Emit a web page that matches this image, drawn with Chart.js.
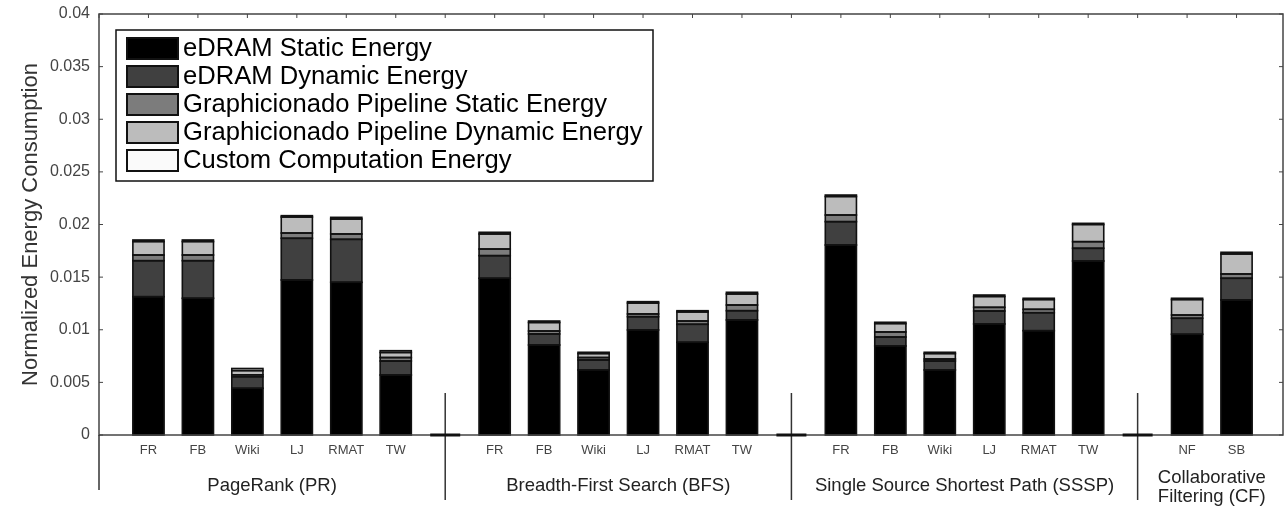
<!DOCTYPE html>
<html lang="en">
<head>
  <meta charset="UTF-8" />
  <title>Normalized Energy Consumption</title>
  <script src="https://cdn.jsdelivr.net/npm/chart.js"></script>
  <style>
    html, body { margin: 0; padding: 0; background: #fff; overflow: hidden; }
    canvas { display: block; }
  </style>
</head>
<body>
  <canvas id="grafico" width="1286" height="508"></canvas>
  <script>
    // groups of workloads and the graphs in each
    const groupNames = ['PageRank (PR)', 'Breadth-First Search (BFS)', 'Single Source Shortest Path (SSSP)', ['Collaborative', 'Filtering (CF)']];
    const groupGraphs = [
      ['FR', 'FB', 'Wiki', 'LJ', 'RMAT', 'TW'],
      ['FR', 'FB', 'Wiki', 'LJ', 'RMAT', 'TW'],
      ['FR', 'FB', 'Wiki', 'LJ', 'RMAT', 'TW'],
      ['NF', 'SB']
    ];

    // values in bar order (PR, BFS, SSSP, CF)
    const edramStatic   = [0.01314, 0.01299, 0.00444, 0.01473, 0.01451, 0.00570, 0.01489, 0.00855, 0.00618, 0.00998, 0.00881, 0.01093, 0.01805, 0.00846, 0.00618, 0.01055, 0.00991, 0.01653, 0.00957, 0.01283];
    const edramDynamic  = [0.00342, 0.00357, 0.00110, 0.00396, 0.00408, 0.00133, 0.00215, 0.00105, 0.00095, 0.00126, 0.00171, 0.00088, 0.00222, 0.00085, 0.00085, 0.00123, 0.00171, 0.00121, 0.00152, 0.00206];
    const pipeStatic    = [0.00054, 0.00054, 0.00018, 0.00050, 0.00051, 0.00033, 0.00063, 0.00028, 0.00023, 0.00026, 0.00031, 0.00054, 0.00063, 0.00048, 0.00019, 0.00035, 0.00032, 0.00063, 0.00031, 0.00041];
    const pipeDynamic   = [0.00128, 0.00128, 0.00040, 0.00152, 0.00142, 0.00048, 0.00143, 0.00081, 0.00038, 0.00104, 0.00086, 0.00105, 0.00176, 0.00080, 0.00052, 0.00103, 0.00093, 0.00163, 0.00147, 0.00190];
    const customCompute = [0.00015, 0.00015, 0.00020, 0.00013, 0.00016, 0.00017, 0.00016, 0.00014, 0.00012, 0.00013, 0.00012, 0.00016, 0.00014, 0.00012, 0.00012, 0.00014, 0.00012, 0.00011, 0.00012, 0.00016];

    const yTicks = [0, 0.005, 0.01, 0.015, 0.02, 0.025, 0.03, 0.035, 0.04];

    // empty slot before, between and after the groups
    const labels = [''];
    const gaps = [0];
    groupGraphs.forEach(g => {
      g.forEach(n => labels.push(n));
      gaps.push(labels.length);
      labels.push('');
    });

    function pad(arr) {
      const out = [];
      let k = 0;
      labels.forEach((l, i) => out.push(gaps.includes(i) ? null : arr[k++]));
      return out;
    }

    const FONT = "'Liberation Sans', Arial, sans-serif";

    const serie = (label, data, color) => ({
      label, data: pad(data), backgroundColor: color,
      borderWidth: 0, inflateAmount: 0.3,
      barPercentage: 0.63, categoryPercentage: 1
    });

    const decoracion = {
      id: 'decoracion',
      afterDatasetsDraw(chart) {
        // black outline around every stacked segment
        const { ctx } = chart;
        ctx.save();
        ctx.strokeStyle = '#111';
        ctx.lineWidth = 1.6;
        chart.data.datasets.forEach((ds, di) => {
          chart.getDatasetMeta(di).data.forEach((el, i) => {
            if (ds.data[i] == null) return;
            const p = el.getProps(['x', 'y', 'base', 'width'], true);
            const top = Math.min(p.y, p.base);
            ctx.strokeRect(p.x - p.width / 2, top, p.width, Math.abs(p.base - p.y));
          });
        });
        ctx.restore();
      },
      afterDraw(chart) {
        const { ctx, chartArea: a, scales: { x, y } } = chart;
        const right = a.right - 3;
        ctx.save();

        // frame
        ctx.strokeStyle = '#444';
        ctx.lineWidth = 1.5;
        ctx.strokeRect(a.left, a.top, right - a.left, a.bottom - a.top);

        // inward ticks
        ctx.lineWidth = 1;
        labels.forEach((l, i) => {
          const px = x.getPixelForValue(i);
          if (px > right) return;
          ctx.beginPath(); ctx.moveTo(px, a.top); ctx.lineTo(px, a.top + 4); ctx.stroke();
        });
        yTicks.forEach(v => {
          const py = y.getPixelForValue(v);
          ctx.beginPath(); ctx.moveTo(a.left, py); ctx.lineTo(a.left + 4, py); ctx.stroke();
          ctx.beginPath(); ctx.moveTo(right, py); ctx.lineTo(right - 4, py); ctx.stroke();
        });

        // group separators
        ctx.strokeStyle = '#333';
        ctx.lineWidth = 1.5;
        gaps.forEach((g, i) => {
          const px = x.getPixelForValue(g);
          if (i === 0) {
            ctx.beginPath(); ctx.moveTo(px, a.bottom); ctx.lineTo(px, a.bottom + 55); ctx.stroke();
          } else if (i < gaps.length - 1) {
            ctx.beginPath(); ctx.moveTo(px, a.bottom - 42); ctx.lineTo(px, a.bottom + 65); ctx.stroke();
            ctx.save();
            ctx.lineWidth = 3; ctx.strokeStyle = '#111';
            ctx.beginPath(); ctx.moveTo(px - 15, a.bottom); ctx.lineTo(px + 15, a.bottom); ctx.stroke();
            ctx.restore();
          }
        });

        // group names
        ctx.fillStyle = '#222';
        ctx.font = '18.5px ' + FONT;
        ctx.textAlign = 'center';
        ctx.textBaseline = 'middle';
        groupNames.forEach((name, i) => {
          const cx = (x.getPixelForValue(gaps[i]) + x.getPixelForValue(gaps[i + 1])) / 2;
          if (Array.isArray(name)) {
            ctx.fillText(name[0], cx, a.bottom + 43);
            ctx.fillText(name[1], cx, a.bottom + 62);
          } else {
            ctx.fillText(name, cx, a.bottom + 51);
          }
        });

        // y title
        ctx.save();
        ctx.translate(31, (a.top + a.bottom) / 2);
        ctx.rotate(-Math.PI / 2);
        ctx.font = '22px ' + FONT;
        ctx.fillStyle = '#333';
        ctx.fillText('Normalized Energy Consumption', 0, 0);
        ctx.restore();

        // legend
        ctx.fillStyle = '#fff';
        ctx.fillRect(116, 30, 537, 151);
        ctx.strokeStyle = '#111';
        ctx.lineWidth = 1.5;
        ctx.strokeRect(116, 30, 537, 151);
        ctx.textAlign = 'left';
        ctx.font = '25.6px ' + FONT;
        chart.data.datasets.forEach((ds, i) => {
          const cy = 48 + i * 28;
          ctx.fillStyle = ds.backgroundColor;
          ctx.fillRect(127, cy - 10, 51, 21);
          ctx.strokeStyle = '#111';
          ctx.lineWidth = 2;
          ctx.strokeRect(127, cy - 10, 51, 21);
          ctx.fillStyle = '#000';
          ctx.fillText(ds.label, 183, cy + 1);
        });

        ctx.restore();
      }
    };

    new Chart(document.getElementById('grafico'), {
      type: 'bar',
      data: {
        labels,
        datasets: [
          serie('eDRAM Static Energy', edramStatic, '#000000'),
          serie('eDRAM Dynamic Energy', edramDynamic, '#404040'),
          serie('Graphicionado Pipeline Static Energy', pipeStatic, '#7c7c7c'),
          serie('Graphicionado Pipeline Dynamic Energy', pipeDynamic, '#bcbcbc'),
          serie('Custom Computation Energy', customCompute, '#fafafa')
        ]
      },
      plugins: [decoracion],
      options: {
        responsive: false,
        animation: false,
        layout: { padding: { top: 14, right: 0, left: 0, bottom: 0 } },
        plugins: { legend: { display: false }, tooltip: { enabled: false } },
        scales: {
          x: {
            stacked: true,
            offset: false,
            grid: { display: false, drawTicks: false },
            border: { display: false },
            ticks: { autoSkip: false, maxRotation: 0, padding: 8, color: '#444', font: { family: FONT, size: 13 } },
            afterFit(s) { s.height = 73; s.paddingLeft = 0; s.paddingRight = 0; }
          },
          y: {
            stacked: true,
            min: 0,
            max: 0.04,
            grid: { display: false, drawTicks: false },
            border: { display: false },
            afterBuildTicks(s) { s.ticks = yTicks.map(v => ({ value: v })); },
            ticks: {
              padding: 9, color: '#444', font: { family: FONT, size: 16 },
              callback: v => String(+v.toFixed(3))
            },
            afterFit(s) { s.width = 99; s.paddingTop = 0; s.paddingBottom = 0; }
          }
        }
      }
    });
  </script>
</body>
</html>
